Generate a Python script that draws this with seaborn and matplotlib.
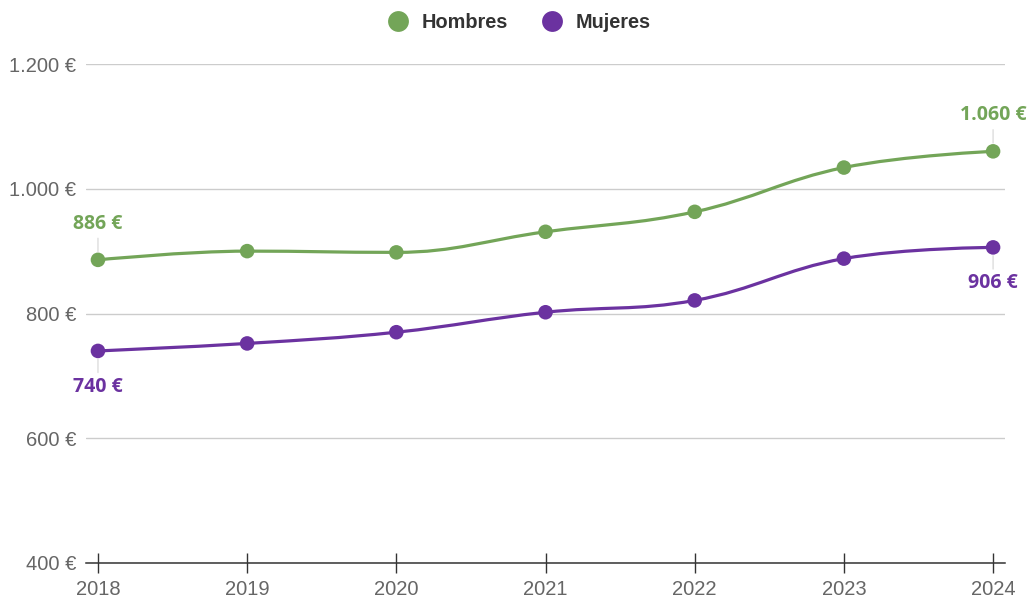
import numpy as np
import pandas as pd
import matplotlib
matplotlib.use("Agg")
import matplotlib.pyplot as plt
from matplotlib.path import Path
from matplotlib.patches import PathPatch
from matplotlib.lines import Line2D
from matplotlib.ticker import FuncFormatter
import seaborn as sns

# data
years = [2018, 2019, 2020, 2021, 2022, 2023, 2024]
hombres = [886, 900, 898, 931, 963, 1034, 1060]
mujeres = [740, 752, 770, 802, 821, 888, 906]
series_names = ["Hombres", "Mujeres"]
colors = {"Hombres": "#73a558", "Mujeres": "#6b32a0"}

df = pd.DataFrame({
    "year": years * 2,
    "value": hombres + mujeres,
    "serie": ["Hombres"] * len(years) + ["Mujeres"] * len(years),
})

sns.set_style("white")
plt.rcParams["font.family"] = ["Liberation Sans", "DejaVu Sans"]


def spline_path(xs, ys, smoothing=1.5):
    # bezier spline through the data points (same idea as highcharts "spline")
    denom = smoothing + 1
    verts = [(xs[0], ys[0])]
    codes = [Path.MOVETO]
    right = {}
    n = len(xs)
    for i in range(1, n):
        x, y = xs[i], ys[i]
        lx, ly = xs[i - 1], ys[i - 1]
        lcx, lcy = x, y
        if i < n - 1:
            nx, ny = xs[i + 1], ys[i + 1]
            lcx = (smoothing * x + lx) / denom
            lcy = (smoothing * y + ly) / denom
            rcx = (smoothing * x + nx) / denom
            rcy = (smoothing * y + ny) / denom
            corr = ((rcy - lcy) * (rcx - x)) / (rcx - lcx) + y - rcy
            lcy += corr
            rcy += corr
            if lcy > ly and lcy > y:
                lcy = max(ly, y)
                rcy = 2 * y - lcy
            elif lcy < ly and lcy < y:
                lcy = min(ly, y)
                rcy = 2 * y - lcy
            if rcy > ny and rcy > y:
                rcy = max(ny, y)
                lcy = 2 * y - rcy
            elif rcy < ny and rcy < y:
                rcy = min(ny, y)
                lcy = 2 * y - rcy
            right[i] = (rcx, rcy)
        verts += [right.get(i - 1, (lx, ly)), (lcx, lcy), (x, y)]
        codes += [Path.CURVE4] * 3
    return Path(verts, codes)


fig, ax = plt.subplots(figsize=(10.29, 6), dpi=100)
fig.subplots_adjust(left=0.0836, right=0.9767, bottom=0.0617, top=0.8933)

for name, vals in zip(series_names, [hombres, mujeres]):
    ax.add_patch(PathPatch(spline_path(years, vals), fill=False,
                           edgecolor=colors[name], lw=2.3, zorder=3))

sns.scatterplot(data=df, x="year", y="value", hue="serie", palette=colors,
                s=110, edgecolor="none", legend=False, zorder=4, ax=ax)

# data labels on first and last points
lbl_font = dict(family=["Open Sans", "DejaVu Sans"], fontsize=14, fontweight="bold")
def fmt(v):
    return f"{v:,.0f}".replace(",", ".") + " €"

for name, vals, sign in [("Hombres", hombres, 1), ("Mujeres", mujeres, -1)]:
    for xi, yi in [(years[0], vals[0]), (years[-1], vals[-1])]:
        off = 36 * sign
        ax.annotate("", xy=(xi, yi), xytext=(0, off * 0.6), textcoords="offset pixels",
                    arrowprops=dict(arrowstyle="-", color="#dddddd", lw=1,
                                    shrinkA=0, shrinkB=6), zorder=2)
        ax.annotate(fmt(yi), xy=(xi, yi), xytext=(0, off), textcoords="offset pixels",
                    ha="center", va="center", color=colors[name], zorder=5, **lbl_font)

ax.set_xlim(years[0] - 0.08, years[-1] + 0.08)
ax.set_ylim(400, 1200)
ax.set_xticks(years)
ax.set_yticks([400, 600, 800, 1000, 1200])
ax.yaxis.set_major_formatter(FuncFormatter(lambda v, p: fmt(v)))
ax.grid(axis="y", color="#cccccc", lw=1)
ax.set_axisbelow(True)
sns.despine(ax=ax, left=True)
ax.spines["bottom"].set_color("#333333")
ax.spines["bottom"].set_linewidth(1.1)
ax.tick_params(axis="x", bottom=True, direction="inout", length=14, width=1, color="#333333",
               labelsize=14.5, labelcolor="#666666", pad=5)
ax.tick_params(axis="y", length=0, labelsize=14.5, labelcolor="#666666", pad=7)
ax.set_xlabel("")
ax.set_ylabel("")

handles = [Line2D([], [], marker="o", ls="none", markersize=15,
                  markerfacecolor=colors[n], markeredgecolor="none") for n in series_names]
fig.legend(handles, series_names, loc="center", bbox_to_anchor=(0.5, 0.962), ncol=2,
           frameon=False, handletextpad=0.2, columnspacing=1.2,
           prop=dict(family=["Liberation Sans", "DejaVu Sans"], weight="bold", size=14.3))
for t in fig.legends[0].get_texts():
    t.set_color("#333333")

fig.savefig("out.png", dpi=100)
